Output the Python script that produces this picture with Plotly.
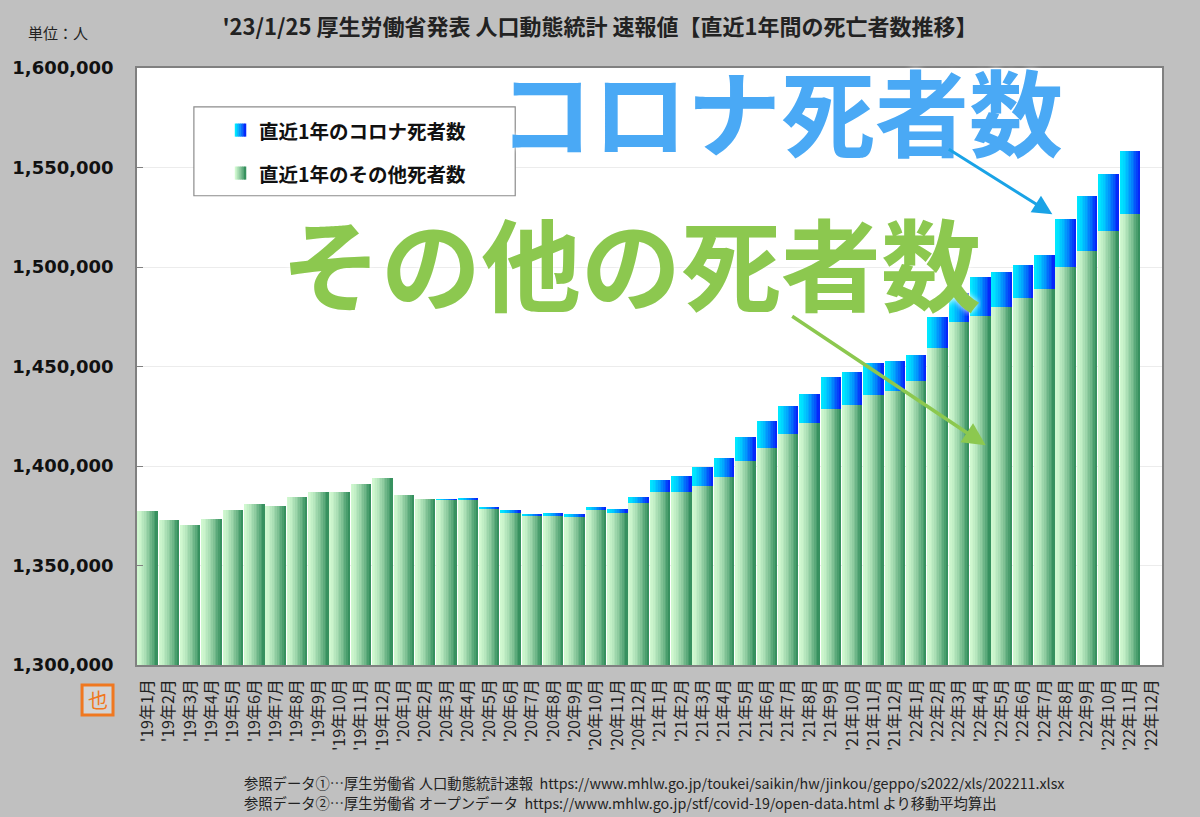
import plotly.graph_objects as go

# categories: '19年1月 ... '22年12月
months = [f"'{y}年{m}月" for y in (19, 20, 21, 22) for m in range(1, 13)]

# deaths over the latest 12 months (people)
other_deaths = [1377300, 1372700, 1370200, 1373500, 1377900, 1381000,
                1380000, 1384200, 1386800, 1386800, 1390800, 1393800,
                1385400, 1383400, 1383000, 1383100, 1378500, 1376700,
                1375000, 1375000, 1374300, 1377900, 1376500, 1381200,
                1387100, 1386900, 1390100, 1394300, 1402400, 1408900,
                1415900, 1421600, 1428500, 1430800, 1435500, 1437800,
                1442700, 1459400, 1472200, 1475400, 1480000, 1484400,
                1488800, 1500200, 1508200, 1518200, 1526800, None]
covid_deaths = [0, 0, 0, 0, 0, 0,
                0, 0, 0, 0, 0, 0,
                0, 0, 60, 500, 900, 1000,
                1000, 1200, 1600, 1700, 2100, 3400,
                5700, 7900, 9200, 9700, 12000, 13700,
                14200, 14700, 16100, 16400, 16300, 14800,
                12900, 15600, 14700, 19400, 17600, 16400,
                17400, 23900, 27300, 28500, 31300, None]

y_ticks = [1300000, 1350000, 1400000, 1450000, 1500000, 1550000, 1600000]

JP = "Noto Sans CJK JP"
GREEN_L, GREEN_R = (208, 248, 208), (55, 145, 95)
BLUE_L, BLUE_R = (0, 232, 255), (5, 40, 250)


def mix(a, b, t):
    return "rgb(%d,%d,%d)" % tuple(round(a[i] + (b[i] - a[i]) * t) for i in range(3))


def note(text, x, y, size, color="#222", weight="normal", xanchor="center", **kw):
    return dict(text=text, x=x, y=y, xref="paper", yref="paper", xanchor=xanchor,
                yanchor="middle", showarrow=False,
                font=dict(family=JP, size=size, color=color, weight=weight, **kw))


fig = go.Figure()

# horizontal gradient faked with thin bar slices
n_slices = 12
bar_w = 0.93
sw = bar_w / n_slices
for i in range(n_slices):
    t = (i / (n_slices - 1)) ** 1.4
    off = -bar_w / 2 + i * sw
    fig.add_trace(go.Bar(x=months, y=other_deaths, width=sw * 1.08, offset=off,
                         marker=dict(color=mix(GREEN_L, GREEN_R, t), line_width=0),
                         showlegend=False, name="直近1年のその他死者数"))
    fig.add_trace(go.Bar(x=months, y=covid_deaths, base=other_deaths, width=sw * 1.08, offset=off,
                         marker=dict(color=mix(BLUE_L, BLUE_R, t), line_width=0),
                         showlegend=False, name="直近1年のコロナ死者数"))

shapes = [
    # darker line at 1,550,000
    dict(type="line", xref="paper", yref="y", x0=0, x1=1, y0=1550000, y1=1550000,
         line=dict(color="#9a9a9a", width=1.2), layer="below"),
    # legend frame
    dict(type="rect", xref="paper", yref="paper", x0=0.0555, x1=0.369, y0=0.786, y1=0.935,
         fillcolor="white", line=dict(color="#8c8c8c", width=1.2)),
    # 也 icon
    dict(type="rect", xref="paper", yref="paper", x0=-0.0536, x1=-0.0234, y0=-0.0838, y1=-0.0335,
         fillcolor="#d4d4d4", line=dict(color="#f07820", width=3)),
]
# gradient legend squares
for i in range(6):
    t = i / 5
    for row, (cl, cr) in enumerate([(BLUE_L, BLUE_R), (GREEN_L, GREEN_R)]):
        yc = 0.896 - row * 0.072
        shapes.append(dict(type="rect", xref="paper", yref="paper",
                           x0=0.0954 + i * 0.0018, x1=0.0954 + (i + 1) * 0.0018 + 0.0004,
                           y0=yc - 0.011, y1=yc + 0.011, fillcolor=mix(cl, cr, t), line_width=0))

big_blue = note("コロナ死者数", 0.628, 0.932, 94, "#4aa9f5", "bold", shadow="0px 0px 6px white")
big_blue["height"] = 104
big_green = note("その他の死者数", 0.482, 0.678, 100, "#8cc84f", "bold", shadow="0px 0px 6px white")
big_green["height"] = 112

annotations = [
    note("単位：人", -0.108, 1.060, 15, xanchor="left"),
    note("直近1年のコロナ死者数", 0.1168, 0.896, 19.5, "#111", "bold", xanchor="left"),
    note("直近1年のその他死者数", 0.1168, 0.824, 19.5, "#111", "bold", xanchor="left"),
    big_blue,
    big_green,
    # arrows
    dict(text="", x=0.893, y=0.755, xref="paper", yref="paper", ax=-105, ay=-66,
         showarrow=True, arrowhead=2, arrowsize=1.3, arrowwidth=3, arrowcolor="#1aa3e6"),
    dict(text="", x=0.828, y=0.368, xref="paper", yref="paper", ax=-195, ay=-130,
         showarrow=True, arrowhead=2, arrowsize=1.3, arrowwidth=3.5, arrowcolor="#8cc84f"),
    note("也", -0.0385, -0.0586, 20, "#f07820"),
    note("参照データ①…厚生労働省 人口動態統計速報  https://www.mhlw.go.jp/toukei/saikin/hw/jinkou/geppo/s2022/xls/202211.xlsx",
         0.1022, -0.196, 14.3, xanchor="left"),
    note("参照データ②…厚生労働省 オープンデータ  https://www.mhlw.go.jp/stf/covid-19/open-data.html より移動平均算出",
         0.1022, -0.2295, 14.3, xanchor="left"),
]

fig.update_layout(
    width=1200, height=817,
    margin=dict(l=135, r=38, t=68, b=152),
    paper_bgcolor="#c0c0c0", plot_bgcolor="white",
    barmode="overlay", bargap=0,
    title=dict(text="'23/1/25 厚生労働省発表 人口動態統計 速報値【直近1年間の死亡者数推移】",
               x=0.5, xanchor="center", y=0.966, yanchor="middle",
               font=dict(family=JP, size=22, color="#222", weight="bold")),
    xaxis=dict(categoryorder="array", categoryarray=months, tickangle=-90,
               tickfont=dict(family=JP, size=16, color="#222"), ticklabelstandoff=6,
               showline=True, linecolor="#808080", linewidth=1.5, mirror=True,
               showgrid=False, ticks=""),
    yaxis=dict(range=[1300000, 1600000], tickvals=y_ticks, tickformat=",",
               tickfont=dict(family="DejaVu Sans", size=18, color="#111", weight="bold"),
               ticks="inside", ticklen=6, tickcolor="#808080", ticklabelstandoff=18,
               showline=True, linecolor="#808080", linewidth=1.5, mirror=True,
               gridcolor="#ececec"),
    shapes=shapes, annotations=annotations,
    hovermode="x",
)

fig.write_html("out.html", config={"displayModeBar": False},
               post_script="document.body.style.margin='0';document.body.style.background='#c0c0c0';")
